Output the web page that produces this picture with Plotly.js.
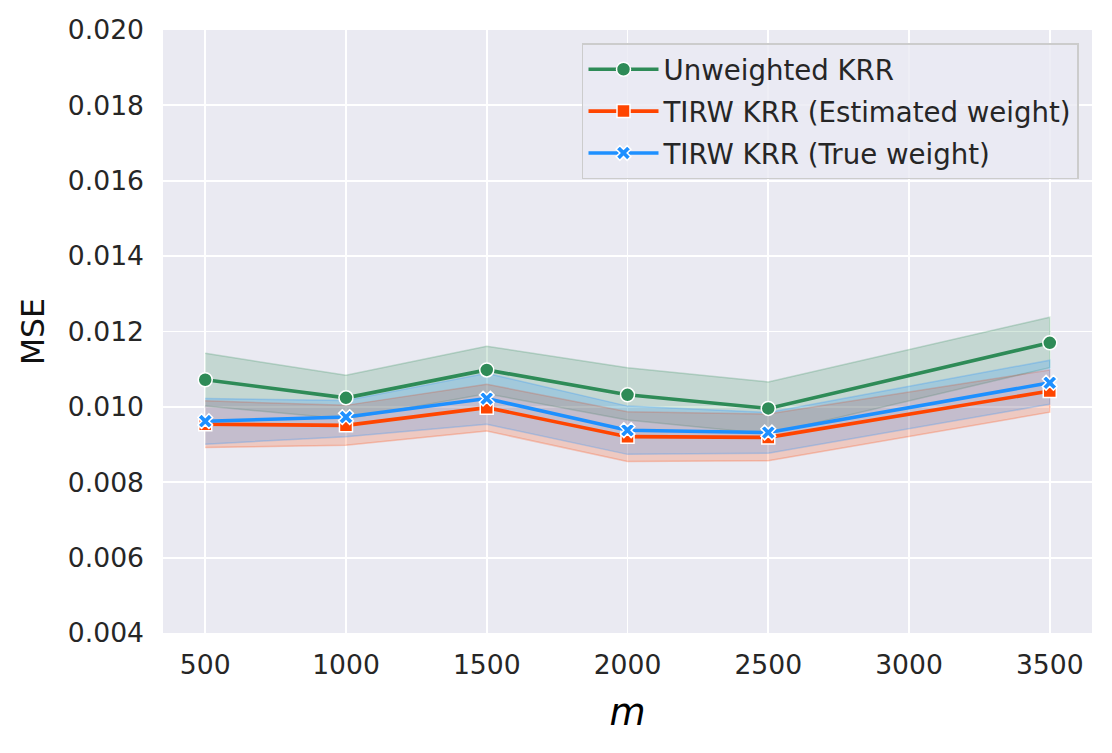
<!DOCTYPE html>
<html>
<head>
<meta charset="utf-8">
<script src="https://cdn.plot.ly/plotly-3.0.1.min.js"></script>
<style>
  html, body { margin: 0; padding: 0; background: #ffffff; }
  #plot { width: 1112px; height: 753px; }
</style>
</head>
<body>
<div id="plot"></div>
<script>
var m = [500, 1000, 1500, 2000, 2500, 3500];

// Unweighted KRR
var unwMean  = [0.01072, 0.01024, 0.01098, 0.01032, 0.00996, 0.01170];
var unwUpper = [0.01142, 0.01084, 0.01161, 0.01104, 0.01066, 0.01238];
var unwLower = [0.01002, 0.00968, 0.01035, 0.00965, 0.00928, 0.01104];

// TIRW KRR (Estimated weight)
var estMean  = [0.00954, 0.00951, 0.00998, 0.00921, 0.00919, 0.01042];
var estUpper = [0.01016, 0.01004, 0.01060, 0.00987, 0.00981, 0.01098];
var estLower = [0.00892, 0.00898, 0.00936, 0.00855, 0.00857, 0.00986];

// TIRW KRR (True weight)
var trueMean  = [0.00962, 0.00973, 0.01022, 0.00938, 0.00932, 0.01064];
var trueUpper = [0.01022, 0.01017, 0.01089, 0.01002, 0.00985, 0.01124];
var trueLower = [0.00901, 0.00921, 0.00954, 0.00874, 0.00877, 0.01007];

var xTicks = [500, 1000, 1500, 2000, 2500, 3000, 3500];
var yTicks = [0.004, 0.006, 0.008, 0.010, 0.012, 0.014, 0.016, 0.018, 0.020];

function band(upper, lower, rgb) {
  return {
    x: m.concat(m.slice().reverse()),
    y: upper.concat(lower.slice().reverse()),
    type: 'scatter',
    mode: 'lines',
    fill: 'toself',
    fillcolor: 'rgba(' + rgb + ',0.2)',
    line: {color: 'rgba(' + rgb + ',0.25)', width: 1.5},
    hoverinfo: 'skip',
    showlegend: false
  };
}

function series(y, name, color, symbol, size) {
  return {
    x: m,
    y: y,
    type: 'scatter',
    mode: 'lines+markers',
    name: name,
    legendgroup: name,
    line: {color: color, width: 3.6},
    marker: {symbol: symbol, size: size, color: color,
             line: {color: '#ffffff', width: 1.5}}
  };
}

// bands first, lines on top (like matplotlib zorder)
var data = [
  band(unwUpper, unwLower, '46,139,87'),
  band(estUpper, estLower, '255,69,0'),
  band(trueUpper, trueLower, '30,144,255'),
  series(unwMean, 'Unweighted KRR', '#2e8b57', 'circle', 14),
  series(estMean, 'TIRW KRR (Estimated weight)', '#ff4500', 'square', 13),
  series(trueMean, 'TIRW KRR (True weight)', '#1e90ff', 'x', 13)
];

var layout = {
  width: 1112,
  height: 753,
  paper_bgcolor: '#ffffff',
  plot_bgcolor: '#eaeaf2',
  margin: {l: 163, r: 20, t: 30, b: 120},
  font: {family: 'DejaVu Sans', color: '#262626', size: 26.6},
  xaxis: {
    range: [350, 3650],
    tickvals: xTicks,
    gridcolor: '#ffffff',
    gridwidth: 1.8,
    zeroline: false,
    showline: false,
    ticks: '',
    ticklabelstandoff: 13,
    tickfont: {size: 26.6, color: '#262626'},
    title: {text: '<i>m</i>', font: {size: 37, color: '#000000'}, standoff: 20}
  },
  yaxis: {
    range: [0.004, 0.020],
    tickvals: yTicks,
    tickformat: '.3f',
    gridcolor: '#ffffff',
    gridwidth: 1.8,
    zeroline: false,
    showline: false,
    ticks: '',
    ticklabelstandoff: 18,
    tickfont: {size: 26.6, color: '#262626'},
    title: {text: 'MSE', font: {size: 31.5, color: '#111111'}, standoff: 13}
  },
  legend: {
    x: 0.986,
    y: 0.978,
    xanchor: 'right',
    yanchor: 'top',
    bgcolor: 'rgba(234,234,242,0.8)',
    bordercolor: '#cccccc',
    borderwidth: 1.5,
    font: {size: 27.6, color: '#262626'},
    itemwidth: 70,
    tracegroupgap: 3
  },
  showlegend: true
};

Plotly.newPlot('plot', data, layout, {displayModeBar: false, staticPlot: true});
</script>
</body>
</html>
